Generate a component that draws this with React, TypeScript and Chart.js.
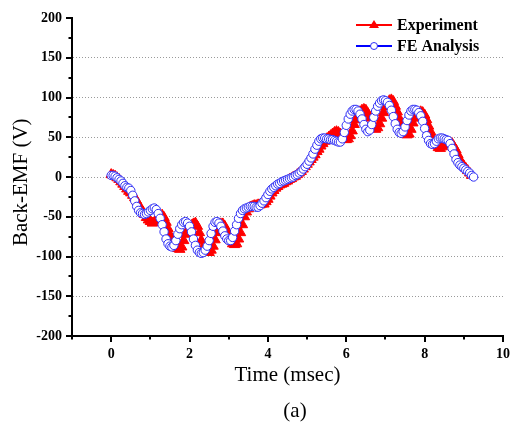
import { useEffect, useRef } from 'react';
import { Chart, registerables } from 'chart.js';

Chart.register(...registerables);

const TIME_MS = [
  0, 0.05, 0.1, 0.15, 0.2, 0.25, 0.3, 0.35, 0.4, 0.45,
  0.5, 0.55, 0.6, 0.65, 0.7, 0.75, 0.8, 0.85, 0.9, 0.95,
  1, 1.05, 1.1, 1.15, 1.2, 1.25, 1.3, 1.35, 1.4, 1.45,
  1.5, 1.55, 1.6, 1.65, 1.7, 1.75, 1.8, 1.85, 1.9, 1.95,
  2, 2.05, 2.1, 2.15, 2.2, 2.25, 2.3, 2.35, 2.4, 2.45,
  2.5, 2.55, 2.6, 2.65, 2.7, 2.75, 2.8, 2.85, 2.9, 2.95,
  3, 3.05, 3.1, 3.15, 3.2, 3.25, 3.3, 3.35, 3.4, 3.45,
  3.5, 3.55, 3.6, 3.65, 3.7, 3.75, 3.8, 3.85, 3.9, 3.95,
  4, 4.05, 4.1, 4.15, 4.2, 4.25, 4.3, 4.35, 4.4, 4.45,
  4.5, 4.55, 4.6, 4.65, 4.7, 4.75, 4.8, 4.85, 4.9, 4.95,
  5, 5.05, 5.1, 5.15, 5.2, 5.25, 5.3, 5.35, 5.4, 5.45,
  5.5, 5.55, 5.6, 5.65, 5.7, 5.75, 5.8, 5.85, 5.9, 5.95,
  6, 6.05, 6.1, 6.15, 6.2, 6.25, 6.3, 6.35, 6.4, 6.45,
  6.5, 6.55, 6.6, 6.65, 6.7, 6.75, 6.8, 6.85, 6.9, 6.95,
  7, 7.05, 7.1, 7.15, 7.2, 7.25, 7.3, 7.35, 7.4, 7.45,
  7.5, 7.55, 7.6, 7.65, 7.7, 7.75, 7.8, 7.85, 7.9, 7.95,
  8, 8.05, 8.1, 8.15, 8.2, 8.25, 8.3, 8.35, 8.4, 8.45,
  8.5, 8.55, 8.6, 8.65, 8.7, 8.75, 8.8, 8.85, 8.9, 8.95,
  9, 9.05, 9.1, 9.15, 9.2, 9.25,
];

const FE_ANALYSIS = [
  2, 2, 1, -1, -3, -5, -8, -11, -13, -14,
  -17, -23, -30, -37, -42, -45, -46, -47, -46, -44,
  -42, -40, -39, -41, -46, -52, -60, -69, -78, -84,
  -87, -88, -86, -80, -72, -65, -60, -57, -56, -58,
  -62, -69, -78, -86, -92, -95, -96, -95, -92, -87,
  -80, -71, -62, -57, -56, -58, -62, -68, -74, -78,
  -80, -80, -76, -68, -60, -52, -46, -42, -40, -39,
  -38, -37, -37, -37, -38, -38, -36, -33, -30, -26,
  -22, -18, -15, -13, -11, -9, -8, -6, -5, -4,
  -3, -2, -1, 0, 2, 3, 5, 7, 10, 13,
  16, 20, 24, 29, 35, 40, 45, 48, 49, 49,
  48, 48, 47, 47, 46, 45, 44, 44, 48, 56,
  65, 73, 79, 83, 85, 85, 83, 79, 73, 66,
  60, 57, 59, 66, 75, 83, 89, 93, 96, 97,
  96, 94, 90, 84, 76, 67, 60, 56, 55, 57,
  63, 71, 78, 83, 85, 85, 84, 81, 77, 70,
  61, 52, 46, 42, 41, 42, 45, 48, 49, 49,
  48, 47, 46, 42, 36, 29, 22, 18, 15, 13,
  11, 9, 7, 5, 2, 0,
];

const EXPERIMENT = [
  3, 2, 1, -1, -3, -6, -9, -12, -15, -18,
  -20, -23, -26, -30, -35, -39, -43, -47, -51, -54,
  -56, -58, -57, -55, -52, -49, -48, -51, -57, -65,
  -73, -79, -85, -88, -90, -91, -88, -80, -72, -67,
  -64, -61, -59, -58, -62, -70, -80, -87, -92, -94,
  -95, -92, -87, -79, -70, -63, -59, -59, -62, -68,
  -74, -80, -84, -85, -84, -78, -70, -60, -50, -44,
  -40, -38, -37, -36, -36, -35, -35, -34, -34, -31,
  -28, -24, -20, -17, -14, -12, -10, -9, -8, -6,
  -5, -3, -2, 0, 1, 3, 5, 7, 10, 13,
  16, 19, 22, 25, 28, 32, 35, 39, 42, 45,
  48, 50, 52, 54, 56, 57, 56, 54, 52, 49,
  47, 48, 52, 58, 66, 72, 78, 82, 84, 85,
  84, 80, 74, 68, 62, 60, 62, 67, 74, 81,
  88, 93, 96, 97, 95, 89, 82, 74, 66, 59,
  54, 53, 54, 60, 68, 74, 78, 81, 82, 81,
  78, 72, 64, 57, 50, 44, 40, 37, 36, 38,
  40, 42, 43, 43, 42, 38, 34, 28, 22, 17,
  14, 11, 8, 5, 2,
];

const X_LABELS = [0, 2, 4, 6, 8, 10];
const Y_LABELS = [-200, -150, -100, -50, 0, 50, 100, 150, 200];
const Y_GRID = [-150, -100, -50, 0, 50, 100, 150];

const SERIF = "'Liberation Serif', 'Times New Roman', serif";
const RED = '#ff0000';
const BLUE = '#2f2ff5';

const ticksPlugin = {
  id: 'axisTicks',
  afterDraw(chart: any) {
    const { ctx, chartArea, scales } = chart;
    ctx.save();
    ctx.strokeStyle = '#000';
    ctx.lineWidth = 2;
    for (const t of scales.y.ticks) {
      const v = t.value;
      const y = Math.round(scales.y.getPixelForValue(v));
      const len = Y_LABELS.includes(v) ? 6 : 3.5;
      ctx.beginPath();
      ctx.moveTo(chartArea.left - len, y);
      ctx.lineTo(chartArea.left, y);
      ctx.stroke();
    }
    for (const t of scales.x.ticks) {
      const v = t.value;
      const x = Math.round(scales.x.getPixelForValue(v));
      const len = X_LABELS.includes(v) ? 6 : 3.5;
      ctx.beginPath();
      ctx.moveTo(x, chartArea.bottom);
      ctx.lineTo(x, chartArea.bottom + len);
      ctx.stroke();
    }
    ctx.restore();
  },
};

const legendPlugin = {
  id: 'cornerLegend',
  afterDraw(chart: any) {
    const { ctx } = chart;
    const rows = [
      { label: chart.data.datasets[0].label, color: RED, y: 25, marker: 'tri' },
      { label: chart.data.datasets[1].label, color: '#0000ff', y: 46, marker: 'circ' },
    ];
    ctx.save();
    for (const r of rows) {
      ctx.strokeStyle = r.color;
      ctx.lineWidth = 2;
      ctx.beginPath();
      ctx.moveTo(356, r.y);
      ctx.lineTo(392, r.y);
      ctx.stroke();
      if (r.marker === 'tri') {
        ctx.fillStyle = RED;
        ctx.beginPath();
        ctx.moveTo(374, r.y - 5);
        ctx.lineTo(379, r.y + 3);
        ctx.lineTo(369, r.y + 3);
        ctx.closePath();
        ctx.fill();
      } else {
        ctx.fillStyle = '#fff';
        ctx.strokeStyle = BLUE;
        ctx.lineWidth = 1;
        ctx.beginPath();
        ctx.arc(374, r.y, 3.5, 0, Math.PI * 2);
        ctx.fill();
        ctx.stroke();
      }
      ctx.fillStyle = '#000';
      ctx.font = `bold 16px ${SERIF}`;
      ctx.textAlign = 'left';
      ctx.textBaseline = 'middle';
      ctx.fillText(r.label, 397, r.y + 1);
    }
    ctx.font = `21px ${SERIF}`;
    ctx.textAlign = 'center';
    ctx.textBaseline = 'middle';
    ctx.fillText('(a)', 295, 411);
    ctx.restore();
  },
};

export default function App() {
  const ref = useRef<HTMLCanvasElement | null>(null);

  useEffect(() => {
    if (!ref.current) return;
    const expPts = EXPERIMENT.map((v, i) => ({ x: TIME_MS[i], y: v }));
    const fePts = FE_ANALYSIS.map((v, i) => ({ x: TIME_MS[i], y: v }));
    const chart = new Chart(ref.current, {
      type: 'line',
      data: {
        datasets: [
          {
            label: 'Experiment',
            data: expPts,
            borderColor: RED,
            backgroundColor: RED,
            borderWidth: 1.5,
            pointStyle: 'triangle',
            pointRadius: 6,
            pointBorderWidth: 1,
            pointBackgroundColor: RED,
            pointBorderColor: RED,
            order: 2,
          },
          {
            label: 'FE Analysis',
            data: fePts,
            borderColor: BLUE,
            backgroundColor: '#ffffff',
            borderWidth: 1,
            pointStyle: 'circle',
            pointRadius: 4.2,
            pointBorderWidth: 1,
            pointBackgroundColor: '#ffffff',
            pointBorderColor: BLUE,
            order: 1,
          },
        ],
      },
      options: {
        animation: false,
        responsive: false,
        devicePixelRatio: 1,
        layout: { padding: { top: 18, right: 6, left: 0, bottom: 0 } },
        plugins: { legend: { display: false }, tooltip: { enabled: false } },
        scales: {
          x: {
            type: 'linear',
            min: -1,
            max: 10,
            ticks: {
              stepSize: 1,
              autoSkip: false,
              maxRotation: 0,
              padding: 10,
              color: '#000',
              font: { family: SERIF, size: 14, weight: 'bold' },
              callback: (v: any) => (X_LABELS.includes(v) ? String(v) : ''),
            },
            grid: { display: true, drawOnChartArea: false, drawTicks: false },
            border: { display: true, color: '#000', width: 2 },
            title: {
              display: true,
              text: 'Time (msec)',
              color: '#000',
              font: { family: SERIF, size: 21 },
              padding: { top: 0, bottom: 37 },
            },
            afterFit: (s: any) => {
              s.height = 89;
              s.paddingLeft = 0;
              s.paddingRight = 0;
            },
          },
          y: {
            type: 'linear',
            min: -200,
            max: 200,
            ticks: {
              stepSize: 25,
              autoSkip: false,
              padding: 10,
              color: '#000',
              font: { family: SERIF, size: 14, weight: 'bold' },
              callback: (v: any) => (Y_LABELS.includes(v) ? String(v) : ''),
            },
            grid: {
              drawTicks: false,
              lineWidth: 1,
              color: (c: any) =>
                c.tick && Y_GRID.includes(c.tick.value) ? '#9a9a9a' : 'rgba(0,0,0,0)',
            },
            border: { display: true, color: '#000', width: 2, dash: [1, 2] },
            title: {
              display: true,
              text: 'Back-EMF (V)  ',
              color: '#000',
              font: { family: SERIF, size: 21 },
              padding: { top: 9, bottom: 0 },
            },
            afterFit: (s: any) => {
              s.width = 72;
              s.paddingTop = 0;
              s.paddingBottom = 0;
            },
          },
        },
      },
      plugins: [ticksPlugin, legendPlugin],
    });
    return () => chart.destroy();
  }, []);

  return (
    <div style={{ position: 'absolute', left: 0, top: 0, width: 510, height: 425, background: '#fff' }}>
      <canvas ref={ref} width={510} height={425} />
    </div>
  );
}
